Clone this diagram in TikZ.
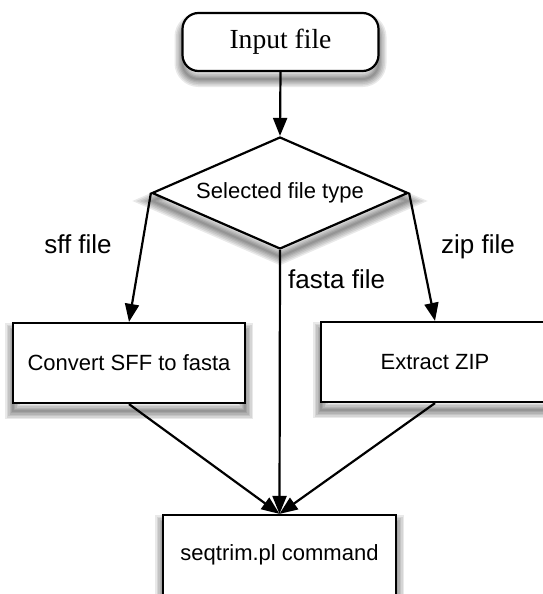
\documentclass[tikz,border=0pt]{standalone}
\usepackage{fontspec}
\setmainfont{Liberation Serif}
\setsansfont{Liberation Sans}
\usetikzlibrary{shapes.geometric,arrows.meta,shadows}

% soft drop shadow built from stacked translucent outlines
\tikzset{
  shadowring/.style={general shadow={draw=black, fill=none, line width=#1,
      opacity=0.085, shadow xshift=0pt, shadow yshift=-8pt}},
  soft/.style={shadowring=16pt, shadowring=13pt, shadowring=10pt,
      shadowring=7pt, shadowring=4.5pt, shadowring=2pt},
  startbox/.style={draw, line width=2.2pt, fill=white, rounded corners=16pt,
      minimum width=196pt, minimum height=58pt, inner sep=0pt,
      font=\fontsize{27.6}{30}\selectfont, soft},
  choice/.style={draw, line width=2.2pt, fill=white, diamond, aspect=2.29,
      minimum width=256pt, minimum height=112pt, inner sep=0pt,
      font=\sffamily\fontsize{22}{26}\selectfont, soft},
  procbox/.style={draw, line width=2.2pt, fill=white,
      minimum height=80pt, inner sep=0pt,
      font=\sffamily\fontsize{22}{26}\selectfont, soft},
  flow/.style={draw, line width=2.2pt, -{Triangle[length=18pt,width=14pt]}},
  edgelabel/.style={font=\sffamily\fontsize{26}{30}\selectfont, inner sep=0pt, anchor=base}
}

\begin{document}
\begin{tikzpicture}[x=1pt,y=-1pt]
  \useasboundingbox (0,0) rectangle (543,594);

  % nodes
  \node[startbox] (input) at (280.5,42) {Input file};
  \node[choice] (type) at (280,193) {Selected file type};
  \node[procbox, minimum width=232pt] (sff) at (129,363) {Convert SFF to fasta};
  \node[procbox, minimum width=228pt] (zip) at (435,362) {Extract ZIP};
  \node[procbox, minimum width=233pt] (cmd) at (279.5,555) {seqtrim.pl command};

  % branch labels
  \node[edgelabel] (lsff) at (78,253) {sff file};
  \node[edgelabel, anchor=base west] (lfasta) at (288,288) {fasta file};
  \node[edgelabel] (lzip) at (478,253) {zip file};

  % connectors
  \draw[flow] (input.south) -- (type.north);
  \draw[flow] (type.west) -- (sff.north);
  \draw[flow] (type.east) -- (zip.north);
  \draw[flow] (type.south) -- (cmd.north);
  \draw[flow] (sff.south) -- (cmd.north);
  \draw[flow] (zip.south) -- (cmd.north);
\end{tikzpicture}
\end{document}
